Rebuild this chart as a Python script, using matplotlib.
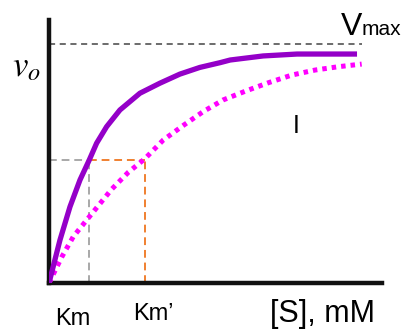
import matplotlib
matplotlib.use('Agg')
import matplotlib.pyplot as plt

# values (x: arbitrary [S] units, y: fraction of Vmax)
s_free = [0.0, 0.33, 0.63, 0.93, 1.21, 1.43, 1.73, 2.13, 2.73, 3.33, 3.93,
          4.53, 5.14, 5.44, 6.43, 7.45, 9.25]
v_free = [0.0, 0.180, 0.319, 0.431, 0.515, 0.585, 0.654, 0.724, 0.794, 0.836,
          0.874, 0.902, 0.922, 0.933, 0.950, 0.958, 0.958]
s_inhib = [0.0, 0.38, 0.73, 1.21, 1.88, 2.38, 2.88, 3.43, 4.03, 4.63, 5.23,
           5.94, 6.59, 7.29, 7.99, 8.69, 9.39]
v_inhib = [0.0, 0.108, 0.194, 0.277, 0.392, 0.463, 0.52, 0.598, 0.659, 0.717,
           0.766, 0.805, 0.838, 0.870, 0.891, 0.905, 0.916]
vmax = 1.0
vmax_end = 9.4
half_v = 0.513
km = 1.2
km_prime = 2.88

fig = plt.figure(figsize=(4.03, 3.31), dpi=100)
ax = fig.add_axes([49/403, 1 - 283/331, 333/403, 263/331])
ax.set_xlim(0, 10)
ax.set_ylim(0, 263/239)

for side in ['top', 'right']:
    ax.spines[side].set_visible(False)
for side in ['left', 'bottom']:
    ax.spines[side].set_linewidth(3.2)
    ax.spines[side].set_color('#111111')
ax.set_xticks([])
ax.set_yticks([])

# reference lines
ax.plot([0, vmax_end], [vmax, vmax], color='#444444', lw=1.1, dashes=(4, 3))
ax.plot([0, km], [half_v, half_v], color='#a8a8a8', lw=1.4, dashes=(4, 2.5))
ax.plot([km, km], [0, half_v], color='#a8a8a8', lw=1.4, dashes=(4, 2.5))
ax.plot([km, km_prime], [half_v, half_v], color='#f08030', lw=1.4, dashes=(4, 2.5))
ax.plot([km_prime, km_prime], [0, half_v], color='#f08030', lw=1.4, dashes=(4, 2.5))

# curves
ax.plot(s_free, v_free, color='#9400c8', lw=3.8, solid_capstyle='butt',
        solid_joinstyle='round', zorder=4)
ax.plot(s_inhib, v_inhib, color='#ff00ff', lw=3.6, dashes=(0.9, 1.0),
        dash_capstyle='butt', zorder=3)

# labels
ax.text(-1.11, 0.866, r'$v_o$', fontsize=25, math_fontfamily='stix',
        va='baseline', ha='left', clip_on=False)
ax.text(8.77, 1.038, 'V', fontsize=23, family='Liberation Sans',
        va='baseline', ha='left', clip_on=False)
ax.text(9.4, 1.038, 'max', fontsize=15, family='Liberation Sans',
        va='baseline', ha='left', clip_on=False)
ax.text(7.42, 0.628, 'I', fontsize=18, family='Liberation Sans',
        va='baseline', ha='center')
ax.text(0.71, -0.176, 'Km', fontsize=17, family='Liberation Sans',
        va='baseline', ha='center', clip_on=False)
ax.text(3.14, -0.155, 'Km\u2019', fontsize=17, family='Liberation Sans',
        va='baseline', ha='center', clip_on=False)
ax.text(9.79, -0.163, '[S], mM', fontsize=22, family='Liberation Sans',
        va='baseline', ha='right', clip_on=False)

fig.savefig('out.png', dpi=100)
